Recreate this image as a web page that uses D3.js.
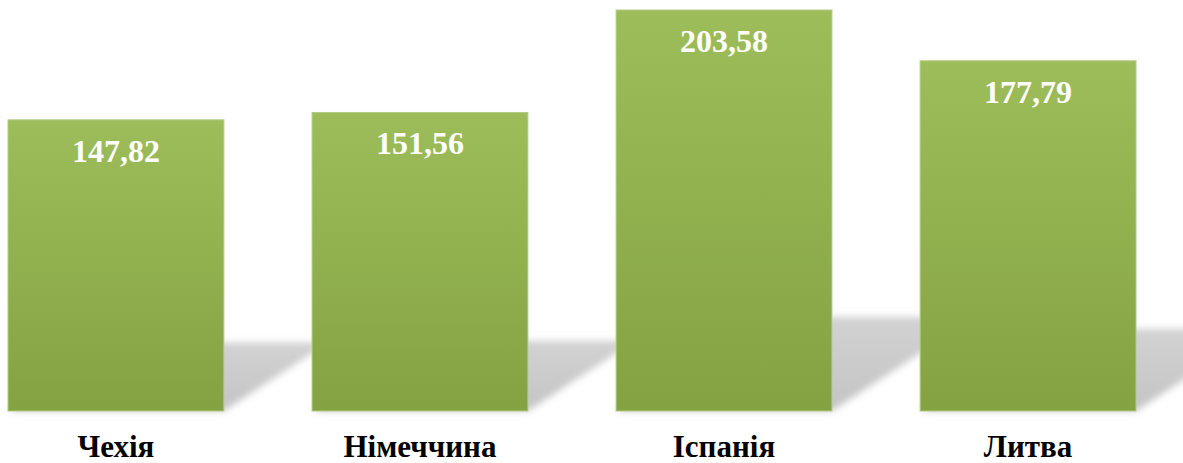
<!DOCTYPE html>
<html><head><meta charset="utf-8">
<script src="https://cdn.jsdelivr.net/npm/d3@7"></script>
<style>html,body{margin:0;padding:0;background:#fff;overflow:hidden}</style>
</head><body>
<svg id="c" width="1183" height="463"></svg>
<script>
const categories = ["Чехія", "Німеччина", "Іспанія", "Литва"];
const values = [147.82, 151.56, 203.58, 177.79];
const valueLabels = ["147,82", "151,56", "203,58", "177,79"];

const W = 1183, H = 463, baseY = 411;
const svg = d3.select("#c");
const x = d3.scaleBand().domain(categories).range([8, 1136]).paddingInner(0.29).paddingOuter(0);
const y = d3.scaleLinear().domain([0, 203.58]).range([baseY, 10]);

const defs = svg.append("defs");
const g = defs.append("linearGradient").attr("id", "bg").attr("x1", 0).attr("y1", 0).attr("x2", 0).attr("y2", 1);
g.append("stop").attr("offset", "0%").attr("stop-color", "#9dbd5a");
g.append("stop").attr("offset", "100%").attr("stop-color", "#84a242");
const f = defs.append("filter").attr("id", "blur").attr("x", "-20%").attr("y", "-20%").attr("width", "140%").attr("height", "140%");
f.append("feGaussianBlur").attr("stdDeviation", 3.5);
const sg = defs.append("linearGradient").attr("id", "sg").attr("x1", 0).attr("y1", 0).attr("x2", 0).attr("y2", 1);
sg.append("stop").attr("offset", "0%").attr("stop-color", "#d2d2d2");
sg.append("stop").attr("offset", "100%").attr("stop-color", "#c4c4c4");

const data = categories.map((c, i) => ({c, v: values[i], l: valueLabels[i]}));

// shadows
svg.append("g").selectAll("path").data(data).join("path")
  .attr("d", d => {
    const x0 = x(d.c), x1 = x0 + x.bandwidth();
    const h = baseY - y(d.v);
    const sh = h * 0.235, dx = h * 0.36;
    return `M${x0},${baseY}L${x1},${baseY}L${x1 + dx},${baseY - sh}L${x0 + dx},${baseY - sh}Z`;
  })
  .attr("fill", "url(#sg)")
  .attr("filter", "url(#blur)");

// bars
svg.append("g").selectAll("rect").data(data).join("rect")
  .attr("x", d => x(d.c))
  .attr("y", d => y(d.v))
  .attr("width", x.bandwidth())
  .attr("height", d => baseY - y(d.v))
  .attr("fill", "url(#bg)")
  .attr("stroke", "#b4cc86")
  .attr("stroke-width", 1);

// value labels
svg.append("g").selectAll("text").data(data).join("text")
  .attr("x", d => x(d.c) + x.bandwidth() / 2)
  .attr("y", d => y(d.v) + 42)
  .attr("text-anchor", "middle")
  .attr("font-family", "'Liberation Serif', 'Times New Roman', serif")
  .attr("font-weight", "bold")
  .attr("font-size", 32)
  .attr("fill", "#ffffff")
  .text(d => d.l);

// category labels
svg.append("g").selectAll("text").data(data).join("text")
  .attr("x", d => x(d.c) + x.bandwidth() / 2)
  .attr("y", 457)
  .attr("text-anchor", "middle")
  .attr("font-family", "'Liberation Serif', 'Times New Roman', serif")
  .attr("font-weight", "bold")
  .attr("font-size", 31)
  .attr("fill", "#000000")
  .text(d => d.c);
</script>
</body></html>
